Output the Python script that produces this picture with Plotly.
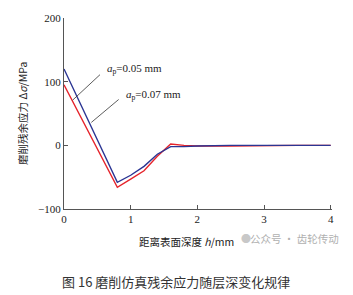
import plotly.graph_objects as go

depth_red = [0, 0.8, 1.0, 1.2, 1.4, 1.6, 1.8, 2.0, 2.5, 3.0, 3.5, 4.0]
stress_red = [95, -66, -53, -40, -17, 2, 0, -1, -1, 0, 0, 0]
depth_blue = [0, 0.8, 1.0, 1.2, 1.4, 1.6, 1.8, 2.0, 2.5, 3.0, 3.5, 4.0]
stress_blue = [120, -58, -47, -33, -14, -2, -2, -1, 0, 0, 0, 0]
xticks = [0, 1, 2, 3, 4]
yticks = [-100, 0, 100, 200]

serif = "Liberation Serif, Times New Roman, serif"
cjk = "Noto Sans CJK SC"

fig = go.Figure()
fig.add_trace(go.Scatter(x=depth_red, y=stress_red, mode="lines",
                         line=dict(color="#e5232b", width=1.4), name="ap=0.05 mm"))
fig.add_trace(go.Scatter(x=depth_blue, y=stress_blue, mode="lines",
                         line=dict(color="#2b3593", width=1.4), name="ap=0.07 mm"))

# leader lines
fig.add_shape(type="line", x0=0.13, y0=71, x1=0.54, y1=111, line=dict(color="#333", width=0.8))
fig.add_shape(type="line", x0=0.41, y0=36, x1=0.82, y1=72, line=dict(color="#333", width=0.8))

fig.add_annotation(x=0.62, y=120, text="<i>a</i><sub>p</sub>=0.05 mm", showarrow=False,
                   xanchor="left", yanchor="middle", font=dict(family=serif, size=11, color="#222"))
fig.add_annotation(x=0.9, y=79, text="<i>a</i><sub>p</sub>=0.07 mm", showarrow=False,
                   xanchor="left", yanchor="middle", font=dict(family=serif, size=11, color="#222"))

# axis titles
fig.add_annotation(xref="paper", yref="paper", x=-0.155, y=0.5, xanchor="center", yanchor="middle",
                   text="磨削残余应力 Δ<i>σ</i>/MPa", textangle=-90, showarrow=False,
                   font=dict(family=cjk + ", " + serif, size=10.5, color="#222"))
fig.add_annotation(xref="paper", yref="paper", x=0.458, y=-0.168, xanchor="center", yanchor="middle",
                   text="距离表面深度 <i>h</i>/mm", showarrow=False,
                   font=dict(family=cjk + ", " + serif, size=10.5, color="#222"))
fig.add_annotation(xref="paper", yref="paper", x=0.653, y=-0.155, xanchor="left", yanchor="middle",
                   text="●", showarrow=False,
                   font=dict(family=cjk, size=10, color="#c8c8c8"))
fig.add_annotation(xref="paper", yref="paper", x=0.687, y=-0.153, xanchor="left", yanchor="middle",
                   text="公众号 · 齿轮传动", showarrow=False,
                   font=dict(family=cjk, size=10.5, color="#b0b0b0"))
fig.add_annotation(xref="paper", yref="paper", x=0.418, y=-0.378, xanchor="center", yanchor="middle",
                   text="图 16 磨削仿真残余应力随层深变化规律", showarrow=False,
                   font=dict(family=cjk, size=13, color="#333"))

fig.update_xaxes(range=[0, 4.02], tickvals=xticks, ticks="inside", ticklen=4,
                 showline=True, linecolor="#555", linewidth=1, tickcolor="#555",
                 showgrid=False, zeroline=False,
                 tickfont=dict(family=serif, size=11, color="#222"))
fig.update_yaxes(range=[-100, 200], tickvals=yticks, ticks="inside", ticklen=4,
                 showline=True, linecolor="#555", linewidth=1, tickcolor="#555",
                 showgrid=False, zeroline=False,
                 tickfont=dict(family=serif, size=11, color="#222"))

fig.update_layout(width=353, height=295, margin=dict(l=64, r=21, t=13, b=86),
                  plot_bgcolor="white", paper_bgcolor="white", showlegend=False)
fig.write_html("out.html")
